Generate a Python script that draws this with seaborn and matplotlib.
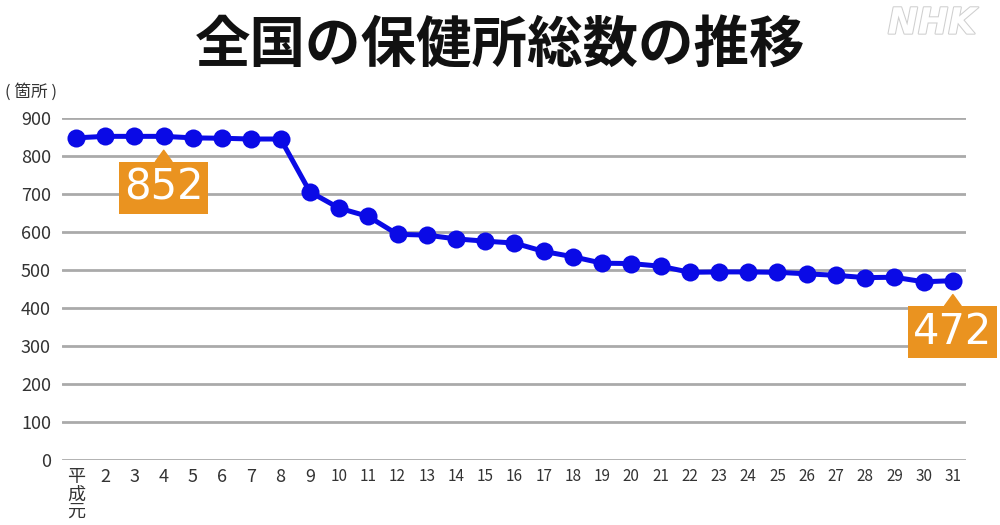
import matplotlib
matplotlib.use("Agg")
import matplotlib.pyplot as plt
import matplotlib.patheffects as pe
import seaborn as sns
import pandas as pd

# Data (平成元年 .. 平成31年)
years = list(range(1, 32))
tick_labels = ["平\n成\n元"] + [str(y) for y in range(2, 32)]
counts = [848, 852, 852, 852, 848, 847, 845, 845, 706, 663, 641, 594, 592, 582,
          576, 571, 549, 535, 518, 517, 510, 494, 495, 495, 494, 490, 486, 480,
          481, 469, 472]

df = pd.DataFrame({"year": years, "count": counts})

sns.set_theme(style="white")
plt.rcParams["font.family"] = ["Noto Sans CJK JP", "DejaVu Sans"]

fig = plt.figure(figsize=(10, 5.25), dpi=100)
ax = fig.add_axes([0.062, 0.124, 0.904, 0.651])

line_blue = "#0a0ae6"
orange = "#ea9320"

sns.lineplot(data=df, x="year", y="count", ax=ax, color=line_blue, linewidth=3.6,
             marker="o", markersize=13, markeredgewidth=0, clip_on=False, zorder=3)

ax.set_xlim(0.52, 31.45)
ax.set_ylim(0, 900)
ax.set_yticks(range(0, 901, 100))
ax.yaxis.grid(True, color="#aaaaaa", linewidth=2)
ax.xaxis.grid(False)
for s in ax.spines.values():
    s.set_visible(False)
ax.set_xlabel("")
ax.set_ylabel("")
ax.tick_params(axis="y", labelsize=13, colors="#333333", pad=8, length=0)
ax.tick_params(axis="x", length=0, pad=6)
ax.set_xticks(years)
ax.set_xticklabels(tick_labels, va="top", linespacing=0.95)
for i, lab in enumerate(ax.get_xticklabels()):
    lab.set_color("#333333")
    lab.set_fontsize(13 if i < 9 else 11)

# unit label
fig.text(0.005, 0.824, "( 箇所 )", fontsize=12, color="#333333", ha="left", va="center")

# title
fig.text(0.5, 0.912, "全国の保健所総数の推移", fontsize=40, fontweight="bold",
         color="#111111", ha="center", va="center")

# NHK mark
fig.text(0.932, 0.955, "NHK", fontsize=26, fontstyle="italic", fontweight="bold",
         color="white", ha="center", va="center", family="DejaVu Sans",
         path_effects=[pe.withStroke(linewidth=1.5, foreground="#cfcfcf")])

# callouts
for yr in [4, 31]:
    val = counts[yr - 1]
    ax.annotate(str(val), xy=(yr, val), xytext=(0, -37), textcoords="offset points",
                ha="center", va="center", fontsize=30, color="white",
                family="DejaVu Sans",
                bbox=dict(boxstyle="square,pad=0.12", fc=orange, ec="none"),
                arrowprops=dict(arrowstyle="wedge,tail_width=0.4", color=orange,
                                shrinkA=0, shrinkB=10),
                zorder=4, annotation_clip=False)

fig.savefig("out.png", dpi=100, facecolor="white")
